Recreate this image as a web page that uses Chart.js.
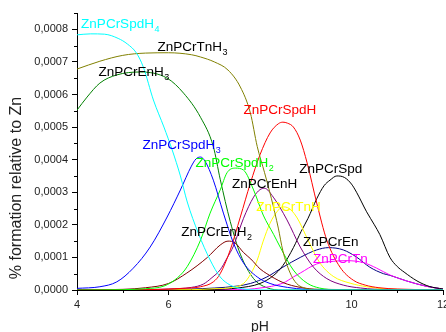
<!DOCTYPE html>
<html>
<head>
<meta charset="utf-8">
<script src="https://cdn.jsdelivr.net/npm/chart.js@4/dist/chart.umd.min.js"></script>
<style>
html,body{margin:0;padding:0;background:#fff;overflow:hidden;}
canvas{display:block;}
</style>
</head>
<body>
<canvas id="c" width="446" height="332"></canvas>
<script>
// ---- Data (pH, fraction) ----
const pH_SpdH4 = [4.0,4.3,4.6,4.9,5.1,5.3,5.45,5.67,5.9,6.08,6.26,6.41,6.65,6.91,7.13,7.35,7.6,8.0,12];
const SpdH4    = [7.83e-4,7.86e-4,7.85e-4,7.72e-4,7.55e-4,7.27e-4,6.84e-4,5.83e-4,5.0e-4,4.3e-4,3.5e-4,2.7e-4,1.75e-4,0.92e-4,0.4e-4,0.15e-4,0.04e-4,0,0];

const pH_TnH3 = [4.0,4.5,5.0,5.5,6.0,6.5,6.7,7.0,7.3,7.57,7.79,7.94,8.1,8.25,8.4,8.5,8.65,8.8,9.0,9.3,12];
const TnH3    = [6.78e-4,7.02e-4,7.2e-4,7.27e-4,7.28e-4,7.22e-4,7.15e-4,7.0e-4,6.75e-4,6.23e-4,5.43e-4,4.4e-4,3.6e-4,2.8e-4,1.9e-4,1.2e-4,0.55e-4,0.2e-4,0.05e-4,0,0];

const pH_EnH3 = [4.0,4.22,4.5,4.87,5.38,5.97,6.33,6.7,6.98,7.13,7.35,7.57,7.86,8.15,8.5,12];
const EnH3    = [5.52e-4,5.92e-4,6.35e-4,6.6e-4,6.69e-4,6.5e-4,6.04e-4,5.3e-4,4.4e-4,3.4e-4,2.1e-4,1.1e-4,0.35e-4,0.07e-4,0,0];

const pH_SpdH3 = [4.0,4.5,4.87,5.23,5.6,5.97,6.26,6.5,6.6,6.7,6.8,6.98,7.2,7.42,7.64,7.94,8.22,8.6,9.0,9.5,12];
const SpdH3    = [0.05e-4,0.1e-4,0.25e-4,0.67e-4,1.32e-4,2.24e-4,3.07e-4,3.8e-4,4.02e-4,4.08e-4,3.95e-4,3.37e-4,2.36e-4,1.44e-4,0.83e-4,0.4e-4,0.2e-4,0.08e-4,0.02e-4,0,0];

const pH_SpdH2 = [4.0,5.0,5.5,5.9,6.2,6.41,6.7,6.91,7.13,7.28,7.46,7.64,7.86,8.07,8.3,8.44,8.73,9.03,9.3,9.7,12];
const SpdH2    = [0,0.01e-4,0.04e-4,0.12e-4,0.38e-4,0.72e-4,1.53e-4,2.36e-4,3.07e-4,3.6e-4,3.74e-4,3.68e-4,3.07e-4,2.3e-4,1.7e-4,1.32e-4,0.61e-4,0.21e-4,0.06e-4,0.01e-4,0];

const pH_SpdH = [4.0,5.5,6.3,6.7,6.98,7.13,7.35,7.57,7.79,8.0,8.22,8.4,8.5,8.6,8.73,8.88,9.03,9.24,9.46,9.75,10.04,10.3,10.6,11.0,12];
const SpdH    = [0,0.01e-4,0.05e-4,0.1e-4,0.25e-4,0.5e-4,1.23e-4,2.24e-4,3.28e-4,4.15e-4,4.82e-4,5.1e-4,5.15e-4,5.12e-4,5.0e-4,4.6e-4,3.9e-4,2.67e-4,1.53e-4,0.7e-4,0.3e-4,0.15e-4,0.07e-4,0.03e-4,0];

const pH_EnH2 = [4.0,5.0,5.5,6.0,6.4,6.85,7.13,7.3,7.45,7.64,7.8,8.0,8.15,8.5,8.88,9.3,12];
const EnH2    = [0,0.02e-4,0.07e-4,0.2e-4,0.52e-4,1.0e-4,1.38e-4,1.5e-4,1.45e-4,1.15e-4,0.95e-4,0.65e-4,0.5e-4,0.23e-4,0.08e-4,0.02e-4,0];

const pH_EnH = [4.0,5.5,6.0,6.5,6.76,6.95,7.13,7.28,7.42,7.64,7.86,8.0,8.1,8.29,8.59,8.88,9.17,9.46,9.82,10.2,10.8,12];
const EnH    = [0,0.01e-4,0.03e-4,0.08e-4,0.18e-4,0.38e-4,0.62e-4,0.98e-4,1.35e-4,2.2e-4,2.85e-4,3.08e-4,3.12e-4,2.85e-4,2.15e-4,1.32e-4,0.7e-4,0.35e-4,0.15e-4,0.06e-4,0.01e-4,0];

const pH_TnH = [4.0,6.5,7.0,7.4,7.64,7.8,7.94,8.07,8.22,8.37,8.5,8.6,8.8,9.05,9.3,9.6,9.97,10.33,10.8,12];
const TnH    = [0,0.01e-4,0.04e-4,0.08e-4,0.2e-4,0.5e-4,0.92e-4,1.5e-4,2.05e-4,2.4e-4,2.55e-4,2.53e-4,2.24e-4,1.53e-4,0.85e-4,0.42e-4,0.21e-4,0.1e-4,0.03e-4,0];

const pH_Spd = [4.0,7.0,7.5,8.0,8.3,8.5,8.73,8.9,9.05,9.24,9.4,9.53,9.68,9.85,10.0,10.11,10.33,10.5,10.62,10.84,11.0,11.15,11.43,11.7,12];
const Spd    = [0,0.02e-4,0.06e-4,0.2e-4,0.45e-4,0.75e-4,1.3e-4,1.8e-4,2.2e-4,2.8e-4,3.2e-4,3.37e-4,3.5e-4,3.45e-4,3.25e-4,3.0e-4,2.4e-4,2.0e-4,1.7e-4,1.0e-4,0.72e-4,0.55e-4,0.28e-4,0.11e-4,0.03e-4];

const pH_En = [4.0,6.0,6.5,7.0,7.5,7.79,8.15,8.5,8.88,9.24,9.5,9.82,10.11,10.4,10.7,10.84,11.2,11.65,12];
const En    = [0,0.01e-4,0.03e-4,0.06e-4,0.12e-4,0.2e-4,0.4e-4,0.7e-4,1.0e-4,1.23e-4,1.3e-4,1.23e-4,1.01e-4,0.7e-4,0.5e-4,0.45e-4,0.28e-4,0.11e-4,0.03e-4];

const pH_Tn = [4.0,7.5,8.0,8.5,8.73,8.88,9.24,9.6,9.9,10.26,10.55,10.84,11.2,11.65,12];
const Tn    = [0,0.01e-4,0.06e-4,0.21e-4,0.4e-4,0.52e-4,0.8e-4,0.88e-4,0.9e-4,0.84e-4,0.67e-4,0.46e-4,0.28e-4,0.11e-4,0.03e-4];

const xTicks = [4,6,8,10,12];
const xMinor = [5,7,9,11];
const yTicks = [0,0.0001,0.0002,0.0003,0.0004,0.0005,0.0006,0.0007,0.0008];
const yMinor = [0.00005,0.00015,0.00025,0.00035,0.00045,0.00055,0.00065,0.00075,0.00085];

// species labels: [main, subscript, color, pH, value]
const labelText  = ['ZnPCrSpdH','ZnPCrTnH','ZnPCrEnH','ZnPCrSpdH','ZnPCrSpdH','ZnPCrSpdH','ZnPCrSpd','ZnPCrEnH','ZnPCrTnH','ZnPCrEnH','ZnPCrEn','ZnPCrTn'];
const labelSub   = ['4','3','3','3','2','','','','','2','',''];
const labelColor = ['#00ffff','#000000','#000000','#0000ff','#00ff00','#ff0000','#000000','#000000','#ffff00','#000000','#000000','#ff00ff'];
const labelPH    = [4.09,5.76,4.47,5.43,6.59,7.64,8.86,7.39,7.92,6.28,8.94,9.16];
const labelVal   = [8.19e-4,7.48e-4,6.72e-4,4.48e-4,3.93e-4,5.55e-4,3.74e-4,3.28e-4,2.58e-4,1.81e-4,1.5e-4,0.98e-4];

function pts(xs, ys){ return xs.map((x,i)=>({x:x, y:ys[i]})); }
function ds(label, xs, ys, color){
  return {label:label, data:pts(xs,ys), borderColor:color, backgroundColor:color, borderWidth:1,
          pointRadius:0, fill:false, cubicInterpolationMode:'monotone', tension:0.4};
}

const FONT = '"Liberation Sans", Arial, sans-serif';

const extras = {
  id:'extras',
  afterDraw(chart){
    const ctx = chart.ctx;
    const xs = chart.scales.x, ys = chart.scales.y;
    const ca = chart.chartArea;
    ctx.save();
    ctx.strokeStyle = '#000';
    ctx.lineWidth = 1;
    ctx.beginPath();
    xMinor.forEach(v=>{ const px=Math.round(xs.getPixelForValue(v))+0.5; ctx.moveTo(px, ca.bottom); ctx.lineTo(px, ca.bottom+3); });
    yMinor.forEach(v=>{ const py=Math.round(ys.getPixelForValue(v))+0.5; ctx.moveTo(ca.left-3, py); ctx.lineTo(ca.left, py); });
    ctx.stroke();
    // species labels
    ctx.textBaseline = 'alphabetic';
    ctx.textAlign = 'left';
    labelText.forEach((t,i)=>{
      const px = xs.getPixelForValue(labelPH[i]);
      const py = ys.getPixelForValue(labelVal[i]) + 5;
      ctx.fillStyle = labelColor[i];
      ctx.font = '13.5px ' + FONT;
      ctx.fillText(t, px, py);
      if (labelSub[i]) {
        const w = ctx.measureText(t).width;
        ctx.font = '9px ' + FONT;
        ctx.fillText(labelSub[i], px + w + 0.5, py + 4);
      }
    });
    // y axis title
    ctx.translate(17, 188);
    ctx.rotate(-Math.PI/2);
    ctx.textAlign = 'center';
    ctx.textBaseline = 'middle';
    ctx.fillStyle = '#222';
    ctx.font = '16px ' + FONT;
    ctx.fillText('% formation relative to Zn', 0, 0);
    ctx.restore();
  }
};

new Chart(document.getElementById('c'), {
  type:'line',
  data:{ datasets:[
    ds('ZnPCrSpdH4', pH_SpdH4, SpdH4, '#00ffff'),
    ds('ZnPCrTnH3', pH_TnH3, TnH3, '#808000'),
    ds('ZnPCrSpdH3', pH_SpdH3, SpdH3, '#0000ff'),
    ds('ZnPCrSpdH2', pH_SpdH2, SpdH2, '#00ff00'),
    ds('ZnPCrSpdH', pH_SpdH, SpdH, '#ff0000'),
    ds('ZnPCrEnH2', pH_EnH2, EnH2, '#800000'),
    ds('ZnPCrEnH', pH_EnH, EnH, '#800080'),
    ds('ZnPCrTnH', pH_TnH, TnH, '#ffff00'),
    ds('ZnPCrSpd', pH_Spd, Spd, '#000000'),
    ds('ZnPCrTn', pH_Tn, Tn, '#ff00ff'),
    ds('ZnPCrEn', pH_En, En, '#000080'),
    ds('ZnPCrEnH3', pH_EnH3, EnH3, '#008000')
  ]},
  options:{
    responsive:false, animation:false, devicePixelRatio:1,
    layout:{ padding:{left:0, top:13, right:3, bottom:0} },
    plugins:{ legend:{display:false}, tooltip:{enabled:false} },
    scales:{
      x:{ type:'linear', min:4, max:12,
        afterBuildTicks:(s)=>{ s.ticks = xTicks.map(v=>({value:v})); },
        afterFit:(s)=>{ s.height = 42; s.paddingLeft = 0; s.paddingRight = 0; },
        grid:{ drawOnChartArea:false, drawTicks:true, tickLength:5, color:'#000', tickColor:'#000' },
        border:{ display:true, color:'#000', width:1 },
        ticks:{ color:'#222', font:{family:FONT, size:11}, padding:3, maxRotation:0, autoSkip:false },
        title:{ display:true, text:'pH', color:'#222', font:{family:FONT, size:14, lineHeight:0.7}, padding:0 }
      },
      y:{ type:'linear', min:0, max:0.00085,
        afterBuildTicks:(s)=>{ s.ticks = yTicks.map(v=>({value:v})); },
        afterFit:(s)=>{ s.width = 77; s.paddingTop = 0; s.paddingBottom = 0; },
        grid:{ drawOnChartArea:false, drawTicks:true, tickLength:5, color:'#000', tickColor:'#000' },
        border:{ display:true, color:'#000', width:1 },
        ticks:{ color:'#222', font:{family:FONT, size:11}, padding:4, autoSkip:false,
          callback:(v)=>Number(v).toFixed(4).replace('.', ',') }
      }
    }
  },
  plugins:[extras]
});
</script>
</body>
</html>
